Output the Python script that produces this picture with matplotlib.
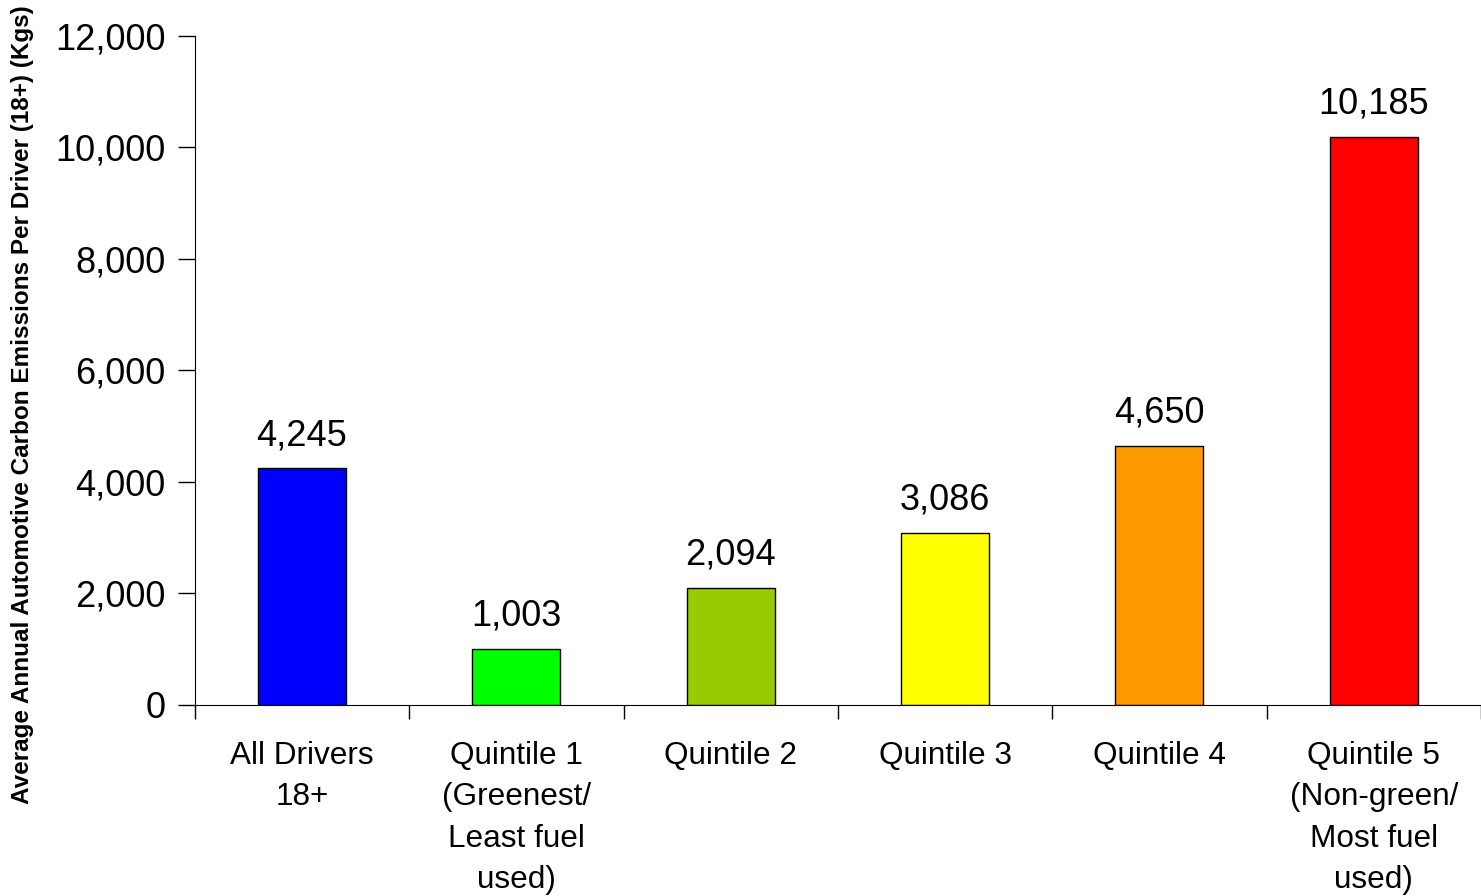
import matplotlib
matplotlib.use("Agg")
import matplotlib.pyplot as plt
import numpy as np

plt.rcParams['font.family'] = ['Liberation Sans', 'DejaVu Sans']

# data
categories = ['All Drivers\n18+', 'Quintile 1\n(Greenest/\nLeast fuel\nused)', 'Quintile 2',
              'Quintile 3', 'Quintile 4', 'Quintile 5\n(Non-green/\nMost fuel\nused)']
values = [4245, 1003, 2094, 3086, 4650, 10185]
colors = ['#0000FF', '#00FF00', '#99CC00', '#FFFF00', '#FF9900', '#FF0000']
yticks = [0, 2000, 4000, 6000, 8000, 10000, 12000]

fig = plt.figure(figsize=(14.81, 8.96), dpi=100)
ax = fig.add_axes([0.1315, 0.2132, 0.8685, 0.7467])

x = np.arange(len(values))
ax.bar(x, values, width=0.41, color=colors, edgecolor='black', linewidth=1.0)

for xi, v in zip(x, values):
    ax.annotate(f"{v:,}", (xi, v), xytext=(0, 11), textcoords='offset points',
                ha='center', va='bottom', fontsize=26)

ax.set_xlim(-0.5, 5.5)
ax.set_ylim(0, 12000)
ax.set_yticks(yticks)
ax.set_yticklabels([f"{t:,}" for t in yticks], fontsize=26)
ax.tick_params(axis='y', length=12, width=1, pad=9)

# ticks between categories, labels centred
ax.set_xticks(np.arange(-0.5, 6.0, 1.0))
ax.set_xticklabels([])
ax.tick_params(axis='x', which='major', length=10, width=1)
ax.set_xticks(x, minor=True)
ax.set_xticklabels(categories, minor=True, fontsize=22.7, linespacing=1.49, va='top')
ax.tick_params(axis='x', which='minor', length=0, pad=26)

ax.spines['top'].set_visible(False)
ax.spines['right'].set_visible(False)

fig.text(0.015, 0.548, 'Average Annual Automotive Carbon Emissions Per Driver (18+) (Kgs)',
         rotation=90, ha='center', va='center', fontsize=17.5, fontweight='bold')

fig.savefig("out.png", dpi=100)
